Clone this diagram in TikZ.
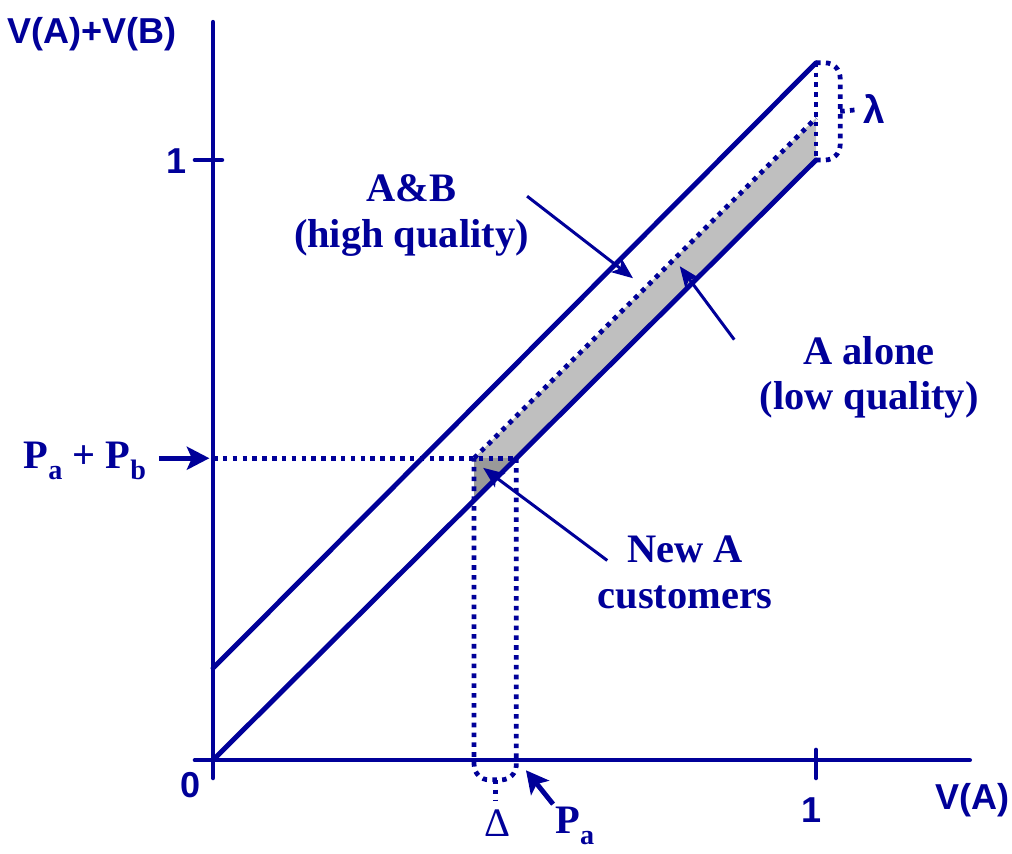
\documentclass[tikz,border=0pt]{standalone}
\usepackage{fontspec}
\setmainfont{Liberation Serif}
\setsansfont{Liberation Sans}
\usetikzlibrary{arrows.meta,positioning}
\definecolor{ink}{RGB}{0,0,153}
\newcommand{\lowsub}[1]{\raisebox{-6.5pt}{\fontsize{16}{16}\selectfont #1}}

\tikzset{
  curve/.style={ink, line width=2.8pt, line cap=round},
  axis/.style={ink, line width=2.5pt, line cap=round},
  guide/.style={ink, line width=2.7pt, dash pattern=on 2.6pt off 3pt},
  pointer/.style={ink, line width=1.7pt, -{Stealth[length=0.42cm,width=0.34cm,inset=0.1cm]}},
  bigpointer/.style={ink, line width=2.8pt, -{Stealth[length=0.45cm,width=0.46cm,inset=0.1cm]}},
  note/.style={ink, font=\fontsize{23}{26}\selectfont\bfseries, align=center, inner sep=0pt},
  axlabel/.style={ink, font=\fontsize{20.5}{24}\selectfont\sffamily\bfseries, inner sep=0pt},
}

\begin{document}
\begin{tikzpicture}[x=12.06cm,y=12cm]
	\useasboundingbox (-0.3532,-0.155) rectangle (1.325,1.2667);
	% shaded bands
	\fill[black!25] (0.433,0.503) -- (1,1.07) -- (1,1) -- (0.503,0.503) -- cycle;
	\fill[black!40] (0.433,0.503) -- (0.503,0.503) -- (0.433,0.433) -- cycle;
	% axes and ticks
	\draw[axis] (0,-0.03) -- (0,1.23);
	\draw[axis] (-0.03,0) -- (1.255,0);
	\draw[axis] (-0.03,1) -- (0.015,1);
	\draw[axis] (1,-0.03) -- (1,0.017);
	\node[axlabel] (yname) at (-0.2007,1.21) {V(A)+V(B)};
	\node[axlabel] (yone) at (-0.061,0.998) {1};
	\node[axlabel] (zero) at (-0.038,-0.042) {0};
	\node[axlabel] (xone) at (0.993,-0.083) {1};
	\node[axlabel] (xname) at (1.260,-0.067) {V(A)};
	% the two value lines
	\draw[curve] (0,0) -- (1,1);
	\draw[curve] (0,0.153) -- (1,1.162);
	% dotted guides and braces
	\draw[guide] (0,0.503) -- (0.503,0.503);
	\draw[guide] (0.433,0.503) -- (1,1.07);
	\draw[guide, rounded corners=0.3cm] (0.503,0.503) -- (0.503,-0.033) -- (0.433,-0.033) -- (0.433,0.503);
	\draw[guide] (0.468,-0.033) -- (0.468,-0.068);
	\draw[guide] (1,1.162) -- (1,1.0);
	\draw[guide, rounded corners=0.3cm] (1,1.162) -- (1.04,1.162) -- (1.04,1.0) -- (1,1.0);
	\draw[guide] (1.04,1.081) -- (1.07,1.084);
	% labels
	\node[note] (highq) at (0.329,0.908) {A\&B\\(high quality)};
	\node[note] (lowq) at (1.088,0.638) {A alone\\(low quality)};
	\node[note] (newa) at (0.783,0.313) {New A\\customers};
	\node[note] (pab) at (-0.2123,0.499) {P\lowsub{a} + P\lowsub{b}};
	\node[note] (pa) at (0.600,-0.110) {P\lowsub{a}};
	\node[ink, font=\fontsize{23}{26}\selectfont, inner sep=0pt] (delta) at (0.4726,-0.105) {Δ};
	\node[ink, font=\fontsize{22}{26}\selectfont\sffamily\bfseries, inner sep=0pt] (lambda) at (1.096,1.085) {λ};
	% arrows
	\coordinate (highqtip) at (0.6965,0.803);
	\coordinate (lowqtip) at (0.774,0.823);
	\coordinate (newtip) at (0.448,0.487);
	\coordinate (patip) at (0.519,-0.017);
	\coordinate (pabtip) at (-0.006,0.503);
	\draw[pointer] ([shift={(-0.04cm,0.38cm)}]highq.east) -- (highqtip);
	\draw[pointer] ([shift={(-0.5cm,-0.08cm)}]lowq.north west) -- (lowqtip);
	\draw[pointer] ([shift={(0.2cm,-0.5cm)}]newa.north west) -- (newtip);
	\draw[bigpointer] ([shift={(-0.04cm,0.05cm)}]pa.north west) -- (patip);
	\draw[bigpointer] (pab.east |- pabtip) ++(0.25cm,0) -- (pabtip);
\end{tikzpicture}
\end{document}
